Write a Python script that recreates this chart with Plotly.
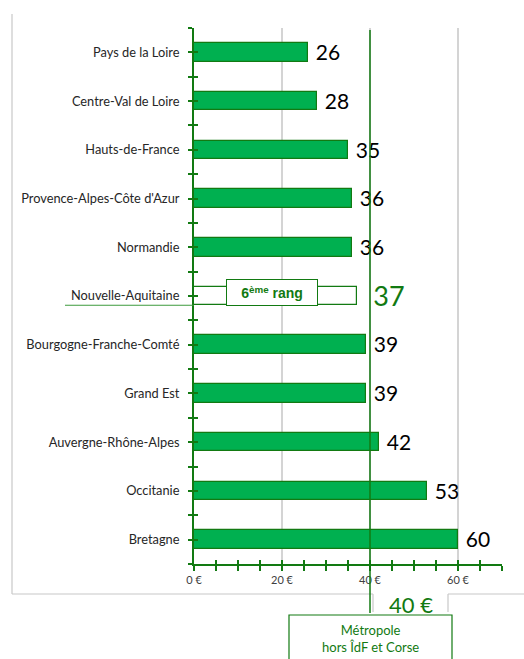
import plotly.graph_objects as go

categories = ["Pays de la Loire", "Centre-Val de Loire", "Hauts-de-France",
              "Provence-Alpes-Côte d'Azur", "Normandie", "Nouvelle-Aquitaine",
              "Bourgogne-Franche-Comté", "Grand Est", "Auvergne-Rhône-Alpes",
              "Occitanie", "Bretagne"]
values = [26, 28, 35, 36, 36, 37, 39, 39, 42, 53, 60]
highlight = "Nouvelle-Aquitaine"
reference_value = 40
reference_label = "40 €"
reference_name = "Métropole<br>hors ÎdF et Corse"
rank_label = "6<sup>ème</sup> rang"

GREEN = "#00B050"
DARK = "#127A12"
GRID = "#D4D4D4"
FONT = "Lato"

W, H = 524, 659
L, R, T, B = 194, 22, 28, 95
PW, PH = W - L - R, H - T - B


def px_x(px):
    return (px - L) / PW


def px_y(py):
    return (H - B - py) / PH


idx = list(range(len(categories)))
fills = ["white" if c == highlight else GREEN for c in categories]
lines = [DARK for c in categories]
tcol = [DARK if c == highlight else "black" for c in categories]
tsize = [27 if c == highlight else 21 for c in categories]
labels = [("  " if c == highlight else " ") + str(v) for c, v in zip(categories, values)]

fig = go.Figure()
fig.add_trace(go.Bar(
    x=values, y=idx, orientation="h", width=0.38,
    marker=dict(color=fills, line=dict(color=lines, width=1.2)),
    text=labels, textposition="outside",
    constraintext="none",
    textfont=dict(family=FONT, size=tsize, color=tcol),
    cliponaxis=False, hoverinfo="skip", showlegend=False,
))
# invisible trace for overlay tick axes
fig.add_trace(go.Scatter(x=[0], y=[0], xaxis="x2", yaxis="y2", mode="markers",
                         marker=dict(opacity=0), showlegend=False, hoverinfo="skip"))

bounds = [i - 0.5 for i in range(len(categories) + 1)]

fig.update_layout(
    width=W, height=H, margin=dict(l=L, r=R, t=T, b=B),
    paper_bgcolor="white", plot_bgcolor="white",
    font=dict(family=FONT, color="#333333"),
    bargap=0,
    xaxis=dict(range=[0, 70], dtick=20, tick0=0, ticksuffix=" €",
               showgrid=True, gridcolor=GRID, gridwidth=1.5,
               zeroline=False, showline=True, linecolor=DARK, linewidth=2,
               ticks="outside", ticklen=5, tickwidth=2, tickcolor=DARK,
               tickfont=dict(size=11, color="#404040"),
               minor=dict(dtick=5, tick0=0, ticks="outside", ticklen=5,
                          tickwidth=2, tickcolor=DARK, showgrid=False)),
    xaxis2=dict(range=[0, 70], overlaying="x", anchor="y2", side="bottom",
                dtick=5, tick0=0, ticks="inside", ticklen=4, tickwidth=2,
                tickcolor=DARK, showticklabels=False, showgrid=False,
                zeroline=False, showline=False),
    yaxis=dict(range=[len(categories) - 0.5, -0.5], tickvals=idx, ticktext=categories,
               showgrid=False, zeroline=False, showline=True, linecolor=DARK,
               linewidth=2, ticks="outside", ticklen=4, tickwidth=2, tickcolor=DARK,
               ticklabelstandoff=6,
               tickfont=dict(size=12.8, color="#262626"),
               minor=dict(tickvals=bounds, ticks="outside", ticklen=4, tickwidth=2,
                          tickcolor=DARK, showgrid=False)),
    yaxis2=dict(range=[len(categories) - 0.5, -0.5], overlaying="y", anchor="x2",
                tickvals=idx + bounds, ticks="inside", ticklen=4, tickwidth=2,
                tickcolor=DARK, showticklabels=False, showgrid=False,
                zeroline=False, showline=False),
)

shapes = []
# outer frame
frame = dict(type="line", xref="paper", yref="paper", line=dict(color="#C8C8C8", width=1.2))
shapes.append(dict(frame, x0=px_x(12), x1=px_x(12), y0=px_y(14), y1=px_y(594)))
shapes.append(dict(frame, x0=px_x(12), x1=px_x(373), y0=px_y(594), y1=px_y(594)))
shapes.append(dict(frame, x0=px_x(373), x1=px_x(373), y0=px_y(594), y1=px_y(612)))
shapes.append(dict(frame, x0=px_x(448), x1=px_x(448), y0=px_y(594), y1=px_y(612)))
shapes.append(dict(frame, x0=px_x(448), x1=px_x(W), y0=px_y(594), y1=px_y(594)))
# reference line
shapes.append(dict(type="line", xref="x", yref="paper", x0=reference_value, x1=reference_value,
                   y0=px_y(30), y1=px_y(613), line=dict(color=DARK, width=1.5), layer="above"))
# underline of highlighted category
hi = categories.index(highlight)
shapes.append(dict(type="line", xref="paper", yref="y", x0=px_x(65), x1=0,
                   y0=hi + 0.19, y1=hi + 0.19, line=dict(color="#3C9A3C", width=1.2)))
# reference name box
shapes.append(dict(type="rect", xref="paper", yref="paper", x0=px_x(289), x1=px_x(452),
                   y0=px_y(700), y1=px_y(615), line=dict(color=DARK, width=1.2),
                   fillcolor="white"))
fig.update_layout(shapes=shapes)

fig.add_annotation(x=17.7, y=hi - 0.07, xref="x", yref="y",
                   text="<b>" + rank_label + "</b>", showarrow=False,
                   font=dict(family="Liberation Sans", size=14, color=DARK),
                   bgcolor="white", bordercolor=DARK, borderwidth=1, borderpad=0,
                   width=90, height=25)
fig.add_annotation(x=px_x(411), y=px_y(604), xref="paper", yref="paper",
                   xanchor="center", yanchor="middle",
                   text=reference_label, showarrow=False,
                   font=dict(family=FONT, size=22, color=DARK))
fig.add_annotation(x=px_x(370), y=px_y(638), xref="paper", yref="paper",
                   xanchor="center", yanchor="middle",
                   text=reference_name, showarrow=False,
                   font=dict(family=FONT, size=13, color=DARK))

fig.write_html("out.html")
